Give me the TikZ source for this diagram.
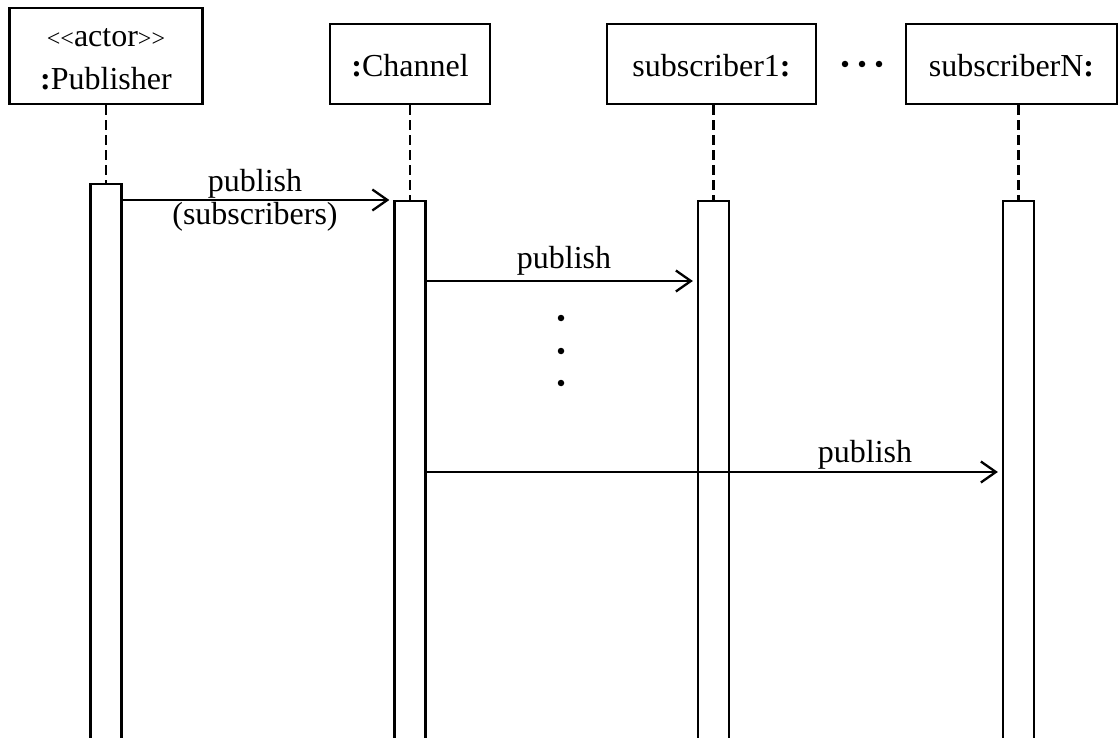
\documentclass[tikz,border=0pt]{standalone}
\usepackage{fontspec}
\setmainfont{Liberation Serif}
\usetikzlibrary{arrows.meta}
\begin{document}
\begin{tikzpicture}[x=1pt,y=-1pt,
  objbox/.style={draw, line width=2.3pt, minimum height=96pt, inner sep=0pt},
  actbar/.style={draw, line width=2.3pt, minimum width=31pt, minimum height=620pt, anchor=north, inner sep=0pt},
  lifeline/.style={line width=2.2pt, dash pattern=on 10pt off 5pt},
  msg/.style={line width=2.3pt, -{Straight Barb[length=15pt,width=21pt,line width=2.3pt]}, shorten >=4pt},
  txt/.style={font=\fontsize{32}{33}\selectfont, inner sep=0pt},
  dotmark/.style={fill=black, circle, inner sep=0pt, minimum size=6.5pt}]
\useasboundingbox (0,0) rectangle (1119,738);
% object boxes
\node[objbox, minimum width=193pt, minimum height=96pt] (pub) at (106,56) {};
\node[objbox, minimum width=160pt, minimum height=80pt] (chan) at (410,64) {};
\node[objbox, minimum width=209pt, minimum height=80pt] (sub1) at (711.5,64) {};
\node[objbox, minimum width=211pt, minimum height=80pt] (subN) at (1011.5,64) {};
% box texts
\node[txt, anchor=base] (pubst) at (106,47) {\fontsize{24}{26}\selectfont{<}{<}\fontsize{32}{33}\selectfont actor\fontsize{24}{26}\selectfont{>}{>}};
\node[txt, anchor=base] (pubname) at (106,90) {\textbf{:}Publisher};
\node[txt, anchor=base] (channame) at (410,77) {\textbf{:}Channel};
\node[txt, anchor=base] (sub1name) at (711.5,77) {subscriber1\textbf{:}};
\node[txt, anchor=base] (subNname) at (1011.5,77) {subscriberN\textbf{:}};
% ellipsis between boxes
\node[dotmark] (h1) at (845,64) {};
\node[dotmark] (h2) at (862,64) {};
\node[dotmark] (h3) at (879,64) {};
% activation bars
\node[actbar] (pubbar) at (106,183) {};
\node[actbar] (chanbar) at (410,200) {};
\node[actbar] (sub1bar) at (713.5,200) {};
\node[actbar] (subNbar) at (1018.5,200) {};
% lifelines
\draw[lifeline] (pub.south) -- (pubbar.north);
\draw[lifeline] (chan.south) -- (chanbar.north);
\draw[lifeline] (sub1.south -| sub1bar.north) -- (sub1bar.north);
\draw[lifeline] (subN.south -| subNbar.north) -- (subNbar.north);
% messages
\draw[msg] ([yshift=-17pt]pubbar.north east) -- (chanbar.north west);
\draw[msg] ([yshift=-81pt]chanbar.north east) -- ([yshift=-81pt]sub1bar.north west);
\draw[msg] ([yshift=-272pt]chanbar.north east) -- ([yshift=-272pt]subNbar.north west);
% labels
\node[txt, anchor=base] (l1a) at (255,192) {publish};
\node[txt, anchor=base] (l1b) at (255,225) {(subscribers)};
\node[txt, anchor=base] (l2) at (564,269) {publish};
\node[txt, anchor=base] (l3) at (865,462) {publish};
% vertical ellipsis
\node[dotmark] (v1) at (561,318) {};
\node[dotmark] (v2) at (561,351) {};
\node[dotmark] (v3) at (561,383) {};
\end{tikzpicture}
\end{document}
